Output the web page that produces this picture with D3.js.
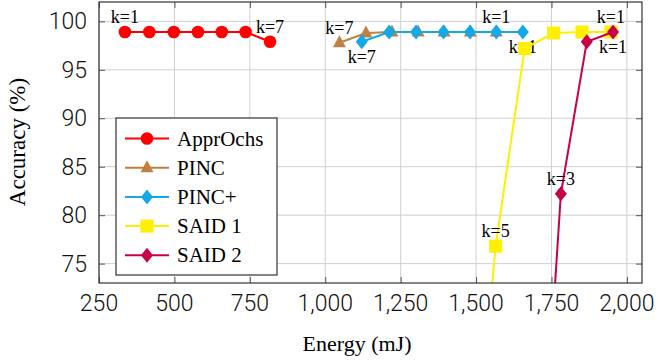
<!DOCTYPE html>
<html><head><meta charset="utf-8">
<script src="https://cdn.jsdelivr.net/npm/d3@7"></script>
<style>body{margin:0;background:#fff} svg{display:block}</style>
</head><body><svg id="c" width="657" height="360"></svg>
<script>
// ---- data ----
const seriesNames = ["ApprOchs", "PINC", "PINC+", "SAID 1", "SAID 2"];
const apprOchsEnergy = [336, 417, 498, 578, 657, 736, 817];
const apprOchsAcc    = [98.9, 98.9, 98.9, 98.9, 98.9, 98.9, 97.9];
const pincEnergy     = [1047, 1135, 1221, 1308, 1394, 1481, 1567];
const pincAcc        = [97.8, 98.8, 98.9, 98.9, 98.9, 98.9, 98.9];
const pincPlusEnergy = [1121, 1212, 1301, 1392, 1480, 1567, 1655];
const pincPlusAcc    = [97.9, 98.9, 98.9, 98.9, 98.9, 98.9, 98.9];
const said1Energy    = [1530, 1565, 1661, 1757, 1851, 1947];
const said1Acc       = [65, 76.8, 97.2, 98.8, 98.9, 98.9];
const said2Energy    = [1694, 1781, 1867, 1954];
const said2Acc       = [40, 82.2, 97.9, 98.9];
const xTicks = [250, 500, 750, 1000, 1250, 1500, 1750, 2000];
const yTicks = [75, 80, 85, 90, 95, 100];
// [series index, point index, text, side]
const pointLabels = [
  [0, 0, "k=1", "above"], [0, 6, "k=7", "above"],
  [1, 0, "k=7", "above"], [1, 6, "k=1", "above"],
  [2, 0, "k=7", "below"], [2, 6, "k=1", "below"],
  [3, 1, "k=5", "above"], [3, 5, "k=1", "above"],
  [4, 1, "k=3", "above"], [4, 3, "k=1", "below"]
];

const energies = [apprOchsEnergy, pincEnergy, pincPlusEnergy, said1Energy, said2Energy];
const accs = [apprOchsAcc, pincAcc, pincPlusAcc, said1Acc, said2Acc];
const colors = ["#ff0000", "#bf8040", "#14a9e6", "#fff000", "#c8004a"];
const shapes = ["circle", "triangle", "diamond", "square", "diamond"];

// ---- layout ----
const L = 99, R = 642, T = 2, B = 283;
const x = d3.scaleLinear().domain([250, 2050]).range([L, R]);
const y = d3.scaleLinear().domain([73, 102]).range([B, T]);
const svg = d3.select("#c");
const serif = "'Liberation Serif','Times New Roman',serif";
const sans = "Roboto, 'Liberation Sans', sans-serif";

svg.append("defs").append("clipPath").attr("id", "clip")
  .append("rect").attr("x", L).attr("y", T).attr("width", R - L).attr("height", B - T);

// grid
const g = svg.append("g");
g.selectAll(".gx").data(xTicks).join("line")
  .attr("x1", d => x(d)).attr("x2", d => x(d)).attr("y1", T).attr("y2", B)
  .attr("stroke", "#cfcfcf").attr("stroke-width", 1);
g.selectAll(".gy").data(yTicks).join("line")
  .attr("y1", d => y(d)).attr("y2", d => y(d)).attr("x1", L).attr("x2", R)
  .attr("stroke", "#cfcfcf").attr("stroke-width", 1);

// inner ticks on all sides via axes
const tl = 6;
svg.append("g").attr("transform", `translate(0,${B})`)
  .call(d3.axisTop(x).tickValues(xTicks).tickSize(tl).tickFormat(""))
  .call(a => a.select(".domain").remove())
  .call(a => a.selectAll("line").attr("stroke", "#555"));
svg.append("g").attr("transform", `translate(0,${T})`)
  .call(d3.axisBottom(x).tickValues(xTicks).tickSize(tl).tickFormat(""))
  .call(a => a.select(".domain").remove())
  .call(a => a.selectAll("line").attr("stroke", "#555"));
svg.append("g").attr("transform", `translate(${L},0)`)
  .call(d3.axisRight(y).tickValues(yTicks).tickSize(tl).tickFormat(""))
  .call(a => a.select(".domain").remove())
  .call(a => a.selectAll("line").attr("stroke", "#555"));
svg.append("g").attr("transform", `translate(${R},0)`)
  .call(d3.axisLeft(y).tickValues(yTicks).tickSize(tl).tickFormat(""))
  .call(a => a.select(".domain").remove())
  .call(a => a.selectAll("line").attr("stroke", "#555"));

// tick labels
const fmt = d3.format(",");
svg.append("g").selectAll("text").data(xTicks).join("text")
  .attr("x", d => x(d)).attr("y", 311).attr("text-anchor", "middle")
  .attr("font-family", sans).attr("font-weight", 300).attr("font-size", 23)
  .attr("fill", "#111").text(d => fmt(d));
svg.append("g").selectAll("text").data(yTicks).join("text")
  .attr("x", 87).attr("y", d => y(d) + 8).attr("text-anchor", "end")
  .attr("font-family", sans).attr("font-weight", 300).attr("font-size", 23)
  .attr("fill", "#111").text(d => d);

// axis titles
svg.append("text").attr("x", 357).attr("y", 351).attr("text-anchor", "middle")
  .attr("font-family", serif).attr("font-size", 22).attr("fill", "#000").text("Energy (mJ)");
svg.append("text").attr("transform", "translate(25,142) rotate(-90)").attr("text-anchor", "middle")
  .attr("font-family", serif).attr("font-size", 23).attr("fill", "#000").text("Accuracy (%)");

// marker drawing
function marker(sel, shape, color) {
  if (shape === "circle") {
    sel.append("circle").attr("r", 6.3).attr("fill", color);
  } else if (shape === "square") {
    sel.append("rect").attr("x", -6.5).attr("y", -6.5).attr("width", 13).attr("height", 13).attr("fill", color);
  } else if (shape === "triangle") {
    sel.append("path").attr("d", "M0,-7.5L6.5,4.5L-6.5,4.5Z").attr("fill", color);
  } else {
    sel.append("path").attr("d", "M0,-7.5L6,0L0,7.5L-6,0Z").attr("fill", color);
  }
}

const line = d3.line().x(d => x(d[0])).y(d => y(d[1]));
const plot = svg.append("g");
seriesNames.forEach((name, si) => {
  const pts = energies[si].map((e, i) => [e, accs[si][i]]);
  plot.append("path").datum(pts).attr("d", line).attr("fill", "none")
    .attr("stroke", colors[si]).attr("stroke-width", 2).attr("clip-path", "url(#clip)");
  pts.filter(p => p[1] >= 73 && p[1] <= 102).forEach(p => {
    const m = plot.append("g").attr("transform", `translate(${x(p[0])},${y(p[1])})`);
    marker(m, shapes[si], colors[si]);
  });
  pointLabels.filter(l => l[0] === si).forEach(l => {
    const p = pts[l[1]];
    plot.append("text").attr("x", x(p[0])).attr("y", y(p[1]) + (l[3] === "above" ? -9 : 21))
      .attr("text-anchor", "middle").attr("font-family", serif).attr("font-size", 18)
      .attr("fill", "#000").text(l[2]);
  });
});

// frame
svg.append("rect").attr("x", L).attr("y", T).attr("width", R - L).attr("height", B - T)
  .attr("fill", "none").attr("stroke", "#333").attr("stroke-width", 1.2);

// legend
const lg = svg.append("g");
lg.append("rect").attr("x", 116).attr("y", 118).attr("width", 161).attr("height", 157)
  .attr("fill", "#fff").attr("stroke", "#333").attr("stroke-width", 1.2);
seriesNames.forEach((name, si) => {
  const cy = 138.5 + si * 29.2;
  lg.append("line").attr("x1", 125).attr("x2", 169).attr("y1", cy).attr("y2", cy)
    .attr("stroke", colors[si]).attr("stroke-width", 2);
  const m = lg.append("g").attr("transform", `translate(147,${cy})`);
  marker(m, shapes[si], colors[si]);
  lg.append("text").attr("x", 177).attr("y", cy + 7).attr("font-family", serif)
    .attr("font-size", 21).attr("fill", "#000").text(name);
});
</script></body></html>
